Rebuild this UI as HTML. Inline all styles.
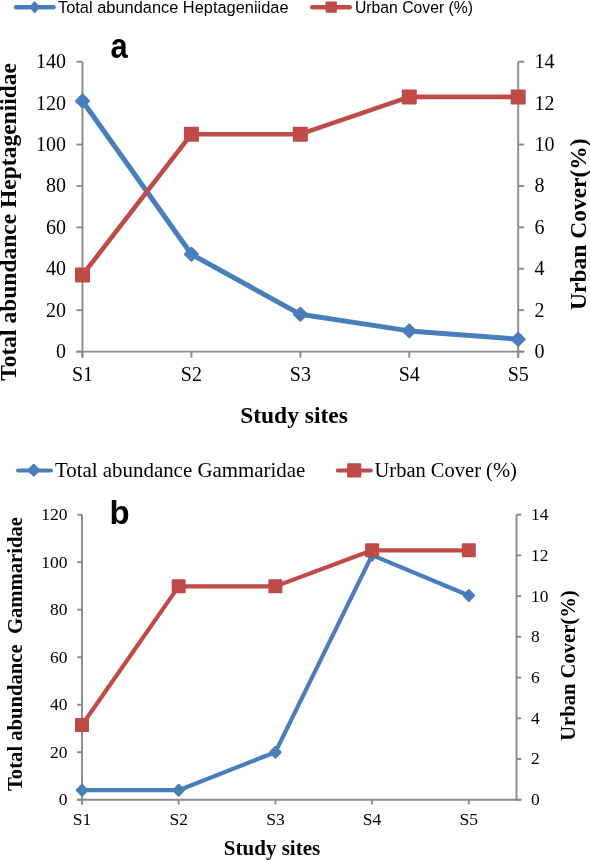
<!DOCTYPE html><html><head><meta charset="utf-8"><title>Chart</title><style>html,body{margin:0;padding:0;background:#fff;}svg{display:block;will-change:transform;}</style></head><body>
<svg width="590" height="860" viewBox="0 0 590 860">
<rect width="590" height="860" fill="#fff"/>
<g stroke="#8A8A8A" stroke-width="1.9" fill="none">
<line x1="82.5" y1="61.7" x2="82.5" y2="357.6"/>
<line x1="518.2" y1="61.7" x2="518.2" y2="357.6"/>
<line x1="76.5" y1="351.6" x2="524.2" y2="351.6"/>
<line x1="76.5" y1="351.60" x2="82.5" y2="351.60"/>
<line x1="76.5" y1="310.19" x2="82.5" y2="310.19"/>
<line x1="76.5" y1="268.77" x2="82.5" y2="268.77"/>
<line x1="76.5" y1="227.36" x2="82.5" y2="227.36"/>
<line x1="76.5" y1="185.94" x2="82.5" y2="185.94"/>
<line x1="76.5" y1="144.53" x2="82.5" y2="144.53"/>
<line x1="76.5" y1="103.11" x2="82.5" y2="103.11"/>
<line x1="76.5" y1="61.70" x2="82.5" y2="61.70"/>
<line x1="518.2" y1="351.60" x2="524.2" y2="351.60"/>
<line x1="518.2" y1="310.19" x2="524.2" y2="310.19"/>
<line x1="518.2" y1="268.77" x2="524.2" y2="268.77"/>
<line x1="518.2" y1="227.36" x2="524.2" y2="227.36"/>
<line x1="518.2" y1="185.94" x2="524.2" y2="185.94"/>
<line x1="518.2" y1="144.53" x2="524.2" y2="144.53"/>
<line x1="518.2" y1="103.11" x2="524.2" y2="103.11"/>
<line x1="518.2" y1="61.70" x2="524.2" y2="61.70"/>
<line x1="82.50" y1="351.6" x2="82.50" y2="357.6"/>
<line x1="191.43" y1="351.6" x2="191.43" y2="357.6"/>
<line x1="300.35" y1="351.6" x2="300.35" y2="357.6"/>
<line x1="409.28" y1="351.6" x2="409.28" y2="357.6"/>
<line x1="518.20" y1="351.6" x2="518.20" y2="357.6"/>
</g>
<g font-family='"Liberation Serif", serif' font-size="20" fill="#000">
<text x="66" y="358.10" text-anchor="end">0</text>
<text x="66" y="316.69" text-anchor="end">20</text>
<text x="66" y="275.27" text-anchor="end">40</text>
<text x="66" y="233.86" text-anchor="end">60</text>
<text x="66" y="192.44" text-anchor="end">80</text>
<text x="66" y="151.03" text-anchor="end">100</text>
<text x="66" y="109.61" text-anchor="end">120</text>
<text x="66" y="68.20" text-anchor="end">140</text>
<text x="534.5" y="358.10">0</text>
<text x="534.5" y="316.69">2</text>
<text x="534.5" y="275.27">4</text>
<text x="534.5" y="233.86">6</text>
<text x="534.5" y="192.44">8</text>
<text x="534.5" y="151.03">10</text>
<text x="534.5" y="109.61">12</text>
<text x="534.5" y="68.20">14</text>
<text x="82.50" y="380.6" text-anchor="middle">S1</text>
<text x="191.43" y="380.6" text-anchor="middle">S2</text>
<text x="300.35" y="380.6" text-anchor="middle">S3</text>
<text x="409.28" y="380.6" text-anchor="middle">S4</text>
<text x="518.20" y="380.6" text-anchor="middle">S5</text>
</g>
<polyline points="82.50,101.04 191.43,254.28 300.35,314.33 409.28,330.89 518.20,339.18" fill="none" stroke="#4A7EBB" stroke-width="5" stroke-linejoin="round"/>
<polygon points="82.50,94.54 89.00,101.04 82.50,107.54 76.00,101.04" fill="#4A7EBB" stroke="#4A7EBB" stroke-width="2.0" stroke-linejoin="round"/>
<polygon points="191.43,247.78 197.93,254.28 191.43,260.78 184.93,254.28" fill="#4A7EBB" stroke="#4A7EBB" stroke-width="2.0" stroke-linejoin="round"/>
<polygon points="300.35,307.83 306.85,314.33 300.35,320.83 293.85,314.33" fill="#4A7EBB" stroke="#4A7EBB" stroke-width="2.0" stroke-linejoin="round"/>
<polygon points="409.28,324.39 415.78,330.89 409.28,337.39 402.78,330.89" fill="#4A7EBB" stroke="#4A7EBB" stroke-width="2.0" stroke-linejoin="round"/>
<polygon points="518.20,332.68 524.70,339.18 518.20,345.68 511.70,339.18" fill="#4A7EBB" stroke="#4A7EBB" stroke-width="2.0" stroke-linejoin="round"/>
<polyline points="82.50,274.98 191.43,134.18 300.35,134.18 409.28,96.90 518.20,96.90" fill="none" stroke="#BE4B48" stroke-width="4.6" stroke-linejoin="round"/>
<rect x="75.00" y="267.48" width="15.00" height="15.00" rx="0.8" fill="#BE4B48"/>
<rect x="183.93" y="126.68" width="15.00" height="15.00" rx="0.8" fill="#BE4B48"/>
<rect x="292.85" y="126.68" width="15.00" height="15.00" rx="0.8" fill="#BE4B48"/>
<rect x="401.78" y="89.40" width="15.00" height="15.00" rx="0.8" fill="#BE4B48"/>
<rect x="510.70" y="89.40" width="15.00" height="15.00" rx="0.8" fill="#BE4B48"/>
<text transform="translate(110.5,58.2) scale(0.87,1)" font-family='"Liberation Sans", sans-serif' font-weight="bold" font-size="35.5">a</text>
<text transform="translate(16.3,380.8) rotate(-90)" font-family='"Liberation Serif", serif' font-weight="bold" font-size="23.5">Total abundance Heptageniidae</text>
<text transform="translate(585.8,310) rotate(-90)" font-family='"Liberation Serif", serif' font-weight="bold" font-size="23.5">Urban Cover(%)</text>
<text x="294" y="423" text-anchor="middle" font-family='"Liberation Serif", serif' font-weight="bold" font-size="23.5">Study sites</text>
<line x1="16.1" y1="7.2" x2="53.5" y2="7.2" stroke="#4A7EBB" stroke-width="4.6" stroke-linecap="round"/>
<polygon points="34.60,2.40 38.85,7.20 34.60,12.00 30.35,7.20" fill="#4A7EBB" stroke="#4A7EBB" stroke-width="2.0" stroke-linejoin="round"/>
<text x="58" y="12.5" font-family='"Liberation Sans", sans-serif' font-size="16.3" fill="#000" textLength="230.6" lengthAdjust="spacingAndGlyphs">Total abundance Heptageniidae</text>
<line x1="312.3" y1="7.2" x2="349.7" y2="7.2" stroke="#BE4B48" stroke-width="4.6" stroke-linecap="round"/>
<rect x="325.55" y="1.50" width="11.30" height="11.30" rx="0.8" fill="#BE4B48"/>
<text x="355" y="12.5" font-family='"Liberation Sans", sans-serif' font-size="16.3" fill="#000" textLength="118" lengthAdjust="spacingAndGlyphs">Urban Cover (%)</text>
<g stroke="#8A8A8A" stroke-width="1.9" fill="none">
<line x1="82.0" y1="514.7" x2="82.0" y2="804.5"/>
<line x1="516.5" y1="514.7" x2="516.5" y2="799.7"/>
<line x1="77.2" y1="799.7" x2="521.3" y2="799.7"/>
<line x1="77.2" y1="799.70" x2="82.0" y2="799.70"/>
<line x1="77.2" y1="752.20" x2="82.0" y2="752.20"/>
<line x1="77.2" y1="704.70" x2="82.0" y2="704.70"/>
<line x1="77.2" y1="657.20" x2="82.0" y2="657.20"/>
<line x1="77.2" y1="609.70" x2="82.0" y2="609.70"/>
<line x1="77.2" y1="562.20" x2="82.0" y2="562.20"/>
<line x1="77.2" y1="514.70" x2="82.0" y2="514.70"/>
<line x1="516.5" y1="799.70" x2="521.3" y2="799.70"/>
<line x1="516.5" y1="758.99" x2="521.3" y2="758.99"/>
<line x1="516.5" y1="718.27" x2="521.3" y2="718.27"/>
<line x1="516.5" y1="677.56" x2="521.3" y2="677.56"/>
<line x1="516.5" y1="636.84" x2="521.3" y2="636.84"/>
<line x1="516.5" y1="596.13" x2="521.3" y2="596.13"/>
<line x1="516.5" y1="555.41" x2="521.3" y2="555.41"/>
<line x1="516.5" y1="514.70" x2="521.3" y2="514.70"/>
<line x1="82.00" y1="799.7" x2="82.00" y2="804.5"/>
<line x1="178.70" y1="799.7" x2="178.70" y2="804.5"/>
<line x1="275.40" y1="799.7" x2="275.40" y2="804.5"/>
<line x1="372.10" y1="799.7" x2="372.10" y2="804.5"/>
<line x1="468.80" y1="799.7" x2="468.80" y2="804.5"/>
</g>
<g font-family='"Liberation Serif", serif' font-size="17.5" fill="#000">
<text x="67.5" y="805.10" text-anchor="end">0</text>
<text x="67.5" y="757.60" text-anchor="end">20</text>
<text x="67.5" y="710.10" text-anchor="end">40</text>
<text x="67.5" y="662.60" text-anchor="end">60</text>
<text x="67.5" y="615.10" text-anchor="end">80</text>
<text x="67.5" y="567.60" text-anchor="end">100</text>
<text x="67.5" y="520.10" text-anchor="end">120</text>
<text x="531" y="805.10">0</text>
<text x="531" y="764.39">2</text>
<text x="531" y="723.67">4</text>
<text x="531" y="682.96">6</text>
<text x="531" y="642.24">8</text>
<text x="531" y="601.53">10</text>
<text x="531" y="560.81">12</text>
<text x="531" y="520.10">14</text>
<text x="82.00" y="824.8" text-anchor="middle">S1</text>
<text x="178.70" y="824.8" text-anchor="middle">S2</text>
<text x="275.40" y="824.8" text-anchor="middle">S3</text>
<text x="372.10" y="824.8" text-anchor="middle">S4</text>
<text x="468.80" y="824.8" text-anchor="middle">S5</text>
</g>
<polyline points="82.00,790.20 178.70,790.20 275.40,752.20 372.10,555.08 468.80,595.45" fill="none" stroke="#4A7EBB" stroke-width="4.2" stroke-linejoin="round"/>
<polygon points="82.00,784.70 87.25,790.20 82.00,795.70 76.75,790.20" fill="#4A7EBB" stroke="#4A7EBB" stroke-width="2.0" stroke-linejoin="round"/>
<polygon points="178.70,784.70 183.95,790.20 178.70,795.70 173.45,790.20" fill="#4A7EBB" stroke="#4A7EBB" stroke-width="2.0" stroke-linejoin="round"/>
<polygon points="275.40,746.70 280.65,752.20 275.40,757.70 270.15,752.20" fill="#4A7EBB" stroke="#4A7EBB" stroke-width="2.0" stroke-linejoin="round"/>
<polygon points="372.10,549.58 377.35,555.08 372.10,560.58 366.85,555.08" fill="#4A7EBB" stroke="#4A7EBB" stroke-width="2.0" stroke-linejoin="round"/>
<polygon points="468.80,589.95 474.05,595.45 468.80,600.95 463.55,595.45" fill="#4A7EBB" stroke="#4A7EBB" stroke-width="2.0" stroke-linejoin="round"/>
<polyline points="82.00,724.99 178.70,586.36 275.40,586.36 372.10,550.33 468.80,550.33" fill="none" stroke="#BE4B48" stroke-width="4.2" stroke-linejoin="round"/>
<rect x="75.00" y="717.99" width="14.00" height="14.00" rx="0.8" fill="#BE4B48"/>
<rect x="171.70" y="579.36" width="14.00" height="14.00" rx="0.8" fill="#BE4B48"/>
<rect x="268.40" y="579.36" width="14.00" height="14.00" rx="0.8" fill="#BE4B48"/>
<rect x="365.10" y="543.33" width="14.00" height="14.00" rx="0.8" fill="#BE4B48"/>
<rect x="461.80" y="543.33" width="14.00" height="14.00" rx="0.8" fill="#BE4B48"/>
<text x="109.5" y="524" font-family='"Liberation Sans", sans-serif' font-weight="bold" font-size="33">b</text>
<text transform="translate(21.6,791) rotate(-90)" font-family='"Liberation Serif", serif' font-weight="bold" font-size="20.65" style="white-space:pre">Total abundance &#160;Gammaridae</text>
<text transform="translate(575.1,740.8) rotate(-90)" font-family='"Liberation Serif", serif' font-weight="bold" font-size="20.6">Urban Cover(%)</text>
<text x="272" y="855" text-anchor="middle" font-family='"Liberation Serif", serif' font-weight="bold" font-size="21">Study sites</text>
<line x1="18" y1="470.4" x2="51" y2="470.4" stroke="#4A7EBB" stroke-width="4" stroke-linecap="round"/>
<polygon points="33.70,464.80 39.20,470.20 33.70,475.60 28.20,470.20" fill="#4A7EBB" stroke="#4A7EBB" stroke-width="2.0" stroke-linejoin="round"/>
<text x="55" y="476.8" font-family='"Liberation Serif", serif' font-size="20.9" fill="#000">Total abundance Gammaridae</text>
<line x1="337.8" y1="470.4" x2="370.8" y2="470.4" stroke="#BE4B48" stroke-width="4" stroke-linecap="round"/>
<rect x="347.10" y="463.20" width="14.20" height="14.20" rx="0.8" fill="#BE4B48"/>
<text x="374.5" y="476.8" font-family='"Liberation Serif", serif' font-size="20.5" fill="#000">Urban Cover (%)</text>
</svg></body></html>
